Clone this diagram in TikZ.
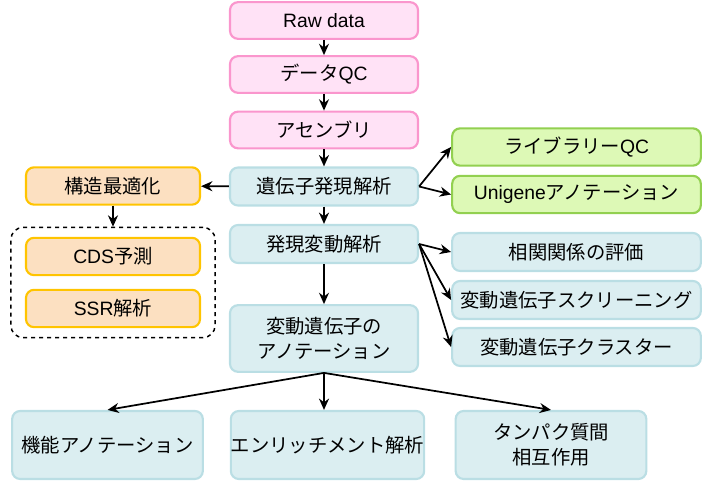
\documentclass[tikz,border=0pt]{standalone}
\usepackage{fontspec}
\setmainfont{Noto Sans CJK JP}
\newfontfamily\latn{Liberation Sans}
\usetikzlibrary{arrows.meta,fit}

\definecolor{pinkfill}{RGB}{255,226,246}
\definecolor{pinkline}{RGB}{250,150,205}
\definecolor{bluefill}{RGB}{219,238,241}
\definecolor{blueline}{RGB}{186,222,228}
\definecolor{greenfill}{RGB}{221,249,182}
\definecolor{greenline}{RGB}{146,208,80}
\definecolor{orangefill}{RGB}{252,224,193}
\definecolor{orangeline}{RGB}{255,196,0}

\begin{document}
\begin{tikzpicture}[x=0.75pt,y=-0.75pt,->,>={Stealth[length=8.5pt,width=7.5pt]},line width=1.3pt,
    font=\fontsize{14.5}{19}\selectfont,
    box/.style={draw,rounded corners=6pt,line width=1.6pt,align=center,inner sep=0pt},
    pink node/.style={box,draw=pinkline,fill=pinkfill,minimum width=141pt,minimum height=27.5pt},
    main node/.style={box,draw=blueline,fill=bluefill,minimum width=141pt,minimum height=28.5pt},
    green node/.style={box,draw=greenline,fill=greenfill,minimum width=186.5pt,minimum height=28pt},
    side node/.style={box,draw=blueline,fill=bluefill,minimum width=186.5pt,minimum height=28.5pt},
    orange node/.style={box,draw=orangeline,fill=orangefill,minimum width=130.5pt,minimum height=28pt},
    leaf node/.style={box,draw=blueline,fill=bluefill,minimum width=143pt,minimum height=51pt}]
    \useasboundingbox (0,0) rectangle (715,484);

    % main column
    \node[pink node] (raw) at (324,20.5) {\latn Raw data};
    \node[pink node] (dqc) at (324,74.5) {データ{\latn QC}};
    \node[pink node] (asm) at (324,130) {アセンブリ};
    \node[main node] (expr) at (324,186.5) {遺伝子発現解析};
    \node[main node] (deg) at (324,244) {発現変動解析};
    \node[main node, minimum height=50pt] (anno) at (324,338.5) {変動遺伝子の\\アノテーション};

    % left side
    \node[orange node] (struct) at (113,186) {構造最適化};
    \node[orange node] (cds) at (113,256.5) {{\latn CDS}予測};
    \node[orange node] (ssr) at (113,308.5) {{\latn SSR}解析};
    \node[draw,dashed,rounded corners=9pt,line width=1.1pt,inner xsep=10.5pt,inner ysep=7pt,fit=(cds)(ssr)] (grp) {};

    % right side
    \node[green node] (libqc) at (576.5,147) {ライブラリー{\latn QC}};
    \node[green node] (unig) at (576.5,194.5) {{\latn Unigene}アノテーション};
    \node[side node] (corr) at (576.5,252) {相関関係の評価};
    \node[side node] (scr) at (576.5,300) {変動遺伝子スクリーニング};
    \node[side node] (clus) at (576.5,347) {変動遺伝子クラスター};

    % bottom row
    \node[leaf node] (func) at (107.5,445) {機能アノテーション};
    \node[leaf node] (enr) at (327.5,445) {エンリッチメント解析};
    \node[leaf node] (ppi) at (551,445) {タンパク質間\\相互作用};

    \path
        (raw) edge (dqc)
        (dqc) edge (asm)
        (asm) edge (expr)
        (expr) edge (deg)
        (deg) edge (anno)
        (expr) edge (struct)
        (struct) edge (grp)
        (expr.east) edge (libqc.west)
        (expr.east) edge (unig.west)
        (deg.east) edge (corr.west)
        (deg.east) edge (scr.west)
        (deg.east) edge (clus.west)
        (anno.south) edge (func.north)
        (anno.south) edge (anno.south |- enr.north)
        (anno.south) edge (ppi.north)
        ;
\end{tikzpicture}
\end{document}
